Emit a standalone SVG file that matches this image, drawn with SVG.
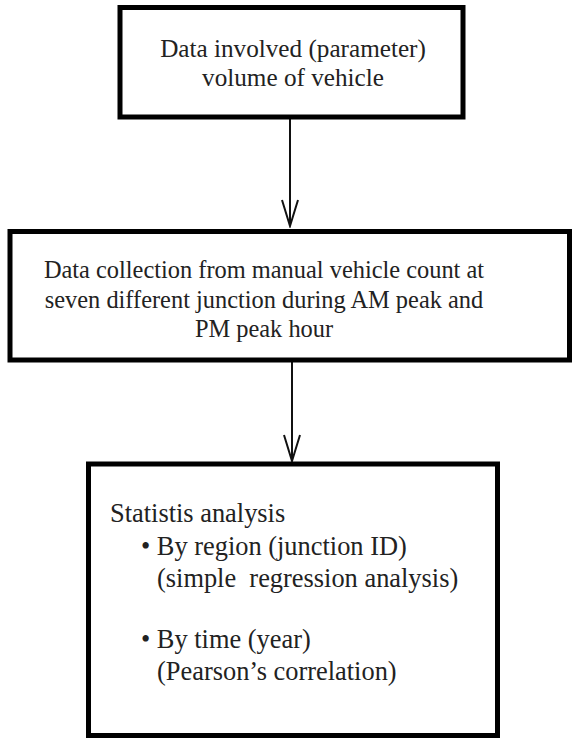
<svg xmlns="http://www.w3.org/2000/svg" width="572" height="738" viewBox="0 0 572 738">
<style>
.box{fill:#fff;stroke:#000;stroke-width:5}
.c{stroke:#111;stroke-width:2;fill:none}
</style>
<defs>
<marker id="ah" viewBox="0 0 30 20" refX="28" refY="10" markerWidth="30" markerHeight="20" markerUnits="userSpaceOnUse" orient="auto">
<path d="M2,2 L28,10 L2,18" fill="none" stroke="#111" stroke-width="2"/>
</marker>
</defs>
<rect width="572" height="738" fill="#fff"/>
<g id="connectors">
<path class="c" d="M290,117 V226" marker-end="url(#ah)"/>
<path class="c" d="M292,360 V461" marker-end="url(#ah)"/>
</g>
<g font-family="Liberation Serif, DejaVu Serif, serif" fill="#222">
<g id="node1" font-size="25.2">
<rect class="box" x="120" y="7.5" width="343" height="109.5"/>
<text text-anchor="middle" x="293" y="57">Data involved (parameter)</text>
<text text-anchor="middle" x="293" y="86">volume of vehicle</text>
</g>
<g id="node2" font-size="24.4">
<rect class="box" x="10" y="231.5" width="559.5" height="128.5"/>
<text text-anchor="middle" x="264" y="278">Data collection from manual vehicle count at</text>
<text text-anchor="middle" x="264" y="308">seven different junction during AM peak and</text>
<text text-anchor="middle" x="264" y="337">PM peak hour</text>
</g>
<g id="node3" font-size="26.4">
<rect class="box" x="88.5" y="464" width="409" height="271.5"/>
<text x="110" y="522">Statistis analysis</text>
<text x="141" y="555">• By region (junction ID)</text>
<text x="157" y="587" xml:space="preserve">(simple  regression analysis)</text>
<text x="141" y="648">• By time (year)</text>
<text x="157" y="680">(Pearson’s correlation)</text>
</g>
</g>
</svg>
